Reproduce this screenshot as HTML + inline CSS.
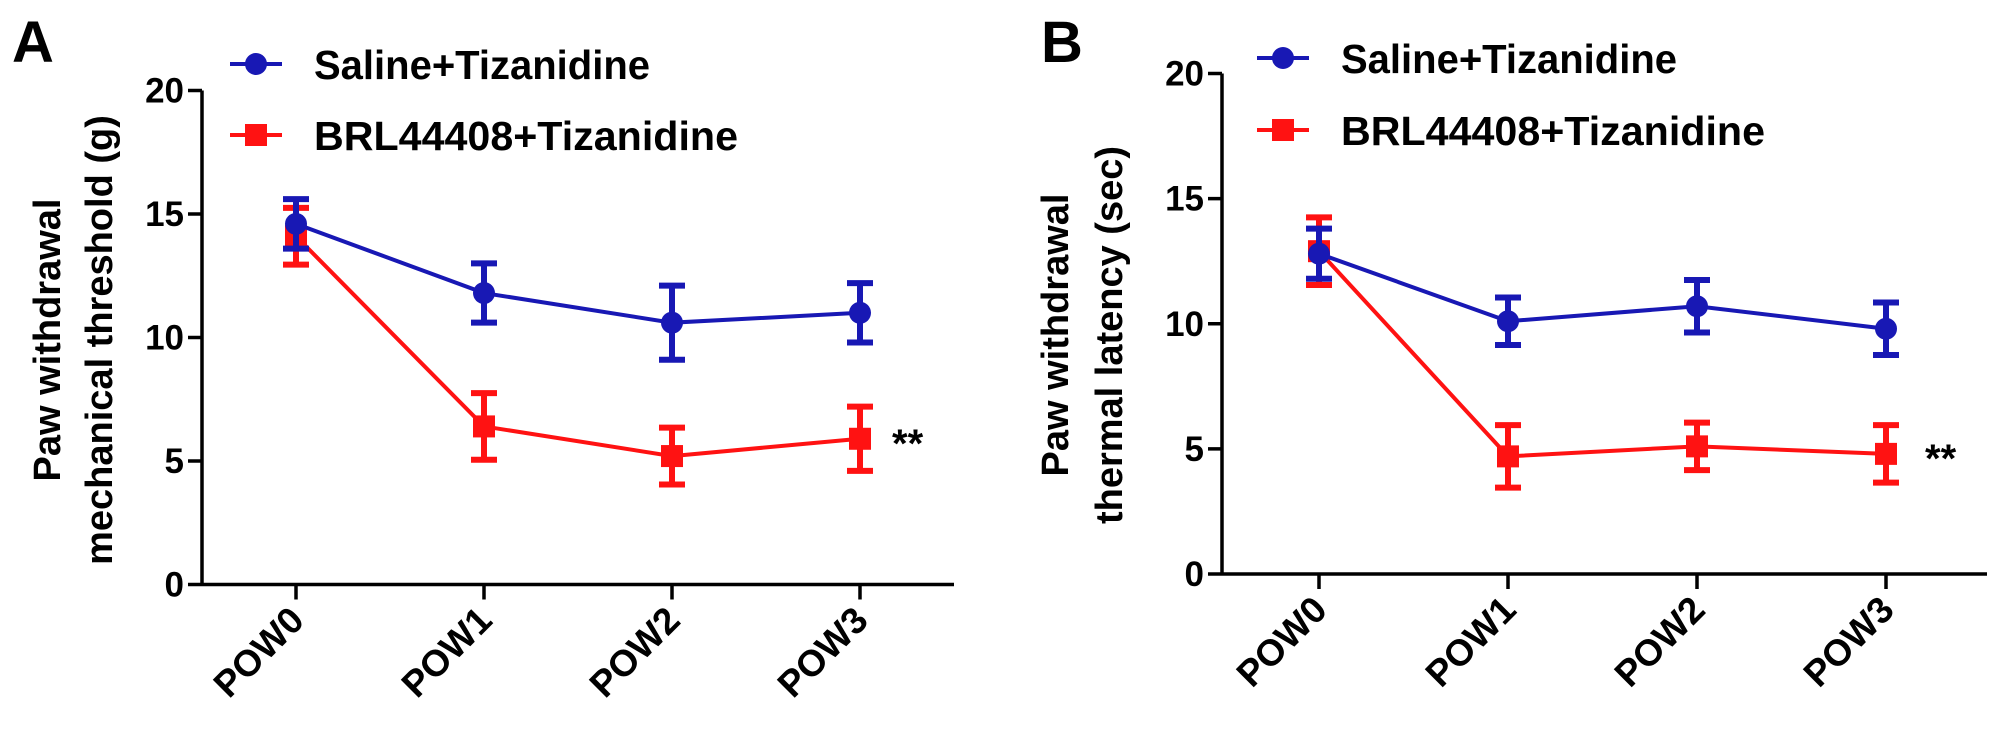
<!DOCTYPE html>
<html><head><meta charset="utf-8"><style>
html,body{margin:0;padding:0;background:#fff;}
svg{display:block;font-family:"Liberation Sans",Arial,sans-serif;font-weight:bold;}
</style></head><body>
<svg id="chart" width="2008" height="730" viewBox="0 0 2008 730"></svg>
<script>
const categories = ["POW0","POW1","POW2","POW3"];
const yTicks = [0,5,10,15,20];
const yTickLabels = ["0","5","10","15","20"];
const seriesNames = ["Saline+Tizanidine","BRL44408+Tizanidine"];
const aSalineMean = [14.6,11.8,10.6,11.0];
const aSalineErr  = [1.0,1.2,1.5,1.2];
const aBrlMean    = [14.1,6.4,5.2,5.9];
const aBrlErr     = [1.15,1.35,1.15,1.3];
const bSalineMean = [12.8,10.1,10.7,9.8];
const bSalineErr  = [1.0,0.95,1.05,1.05];
const bBrlMean    = [12.9,4.7,5.1,4.8];
const bBrlErr     = [1.35,1.25,0.95,1.15];

const NS="http://www.w3.org/2000/svg";
const svg=document.getElementById('chart');
function mk(tag,attrs,parent,text){
  const e=document.createElementNS(NS,tag);
  for(const k in attrs) e.setAttribute(k,attrs[k]);
  if(text!==undefined) e.textContent=text;
  (parent||svg).appendChild(e);
  return e;
}

function panel(cfg){
  const g=mk('g',{});
  
  
  const yScale=v=>cfg.y0-(v/20)*(cfg.y0-cfg.y20);
  const xScale=i=>cfg.x0+i*cfg.dx;
  const L=mk('text',{x:cfg.letterX,y:62,'font-size':58},g,cfg.letter);
  
  
  const ya=mk('line',{x1:cfg.ax,y1:cfg.y20,x2:cfg.ax,y2:cfg.y0+1.5,stroke:'#000','stroke-width':3.5},g);
  
  
  yTicks.forEach((t,i)=>{
    const y=yScale(t);
    mk('line',{x1:cfg.ax-14,y1:y,x2:cfg.ax,y2:y,stroke:'#000','stroke-width':3.5},g);
    const tl=mk('text',{x:cfg.ax-18,y:y+12,'font-size':35,'text-anchor':'end'},g,yTickLabels[i]);
    
    
  });
  const xa=mk('line',{x1:cfg.ax,y1:cfg.y0,x2:cfg.xEnd,y2:cfg.y0,stroke:'#000','stroke-width':3.5},g);
  
  
  categories.forEach((c,i)=>{
    const x=xScale(i);
    mk('line',{x1:x,y1:cfg.y0,x2:x,y2:cfg.y0+15,stroke:'#000','stroke-width':3.5},g);
    const t=mk('text',{x:0,y:0,'font-size':37,'text-anchor':'end',transform:`translate(${x+10},${cfg.y0+38}) rotate(-45)`},g,c);
    
    
  });
  const yt=mk('text',{'font-size':38,'text-anchor':'middle',transform:`translate(${cfg.t1x},${cfg.tcy}) rotate(-90)`},g,cfg.title1);
  
  
  const yt2=mk('text',{'font-size':38,'text-anchor':'middle',transform:`translate(${cfg.t2x},${cfg.tcy}) rotate(-90)`},g,cfg.title2);
  
  
  const series=[
    {mean:cfg.s1,err:cfg.e1,color:'#1818b4',shape:'circle',name:'saline-series'},
    {mean:cfg.s2,err:cfg.e2,color:'#ff1212',shape:'square',name:'brl-series'}
  ];
  [series[1],series[0]].forEach(s=>{
    const sg=mk('g',{},g);
    
    
    const pts=s.mean.map((v,i)=>xScale(i)+','+yScale(v)).join(' ');
    mk('polyline',{points:pts,fill:'none',stroke:s.color,'stroke-width':4},sg);
    s.mean.forEach((v,i)=>{
      const x=xScale(i),yt=yScale(v+s.err[i]),yb=yScale(v-s.err[i]);
      const eb=mk('path',{d:`M${x},${yt}V${yb}M${x-13},${yt}H${x+13}M${x-13},${yb}H${x+13}`,stroke:s.color,'stroke-width':6,fill:'none'},sg);
      
      
      let m;
      if(s.shape==='circle') m=mk('circle',{cx:x,cy:yScale(v),r:11,fill:s.color},sg);
      else m=mk('rect',{x:x-11,y:yScale(v)-11,width:22,height:22,fill:s.color},sg);
      
      
    });
  });
  const st=mk('text',{x:cfg.starX,y:yScale(cfg.s2[3])+18,'font-size':40},g,'**');
  
  
  const lg=mk('g',{},g);
  
  
  [[cfg.legY1,'#1818b4','circle',seriesNames[0]],[cfg.legY2,'#ff1212','square',seriesNames[1]]].forEach(([y,c,sh,n])=>{
    const le=mk('g',{},lg);
    
    
    mk('line',{x1:cfg.legX,y1:y,x2:cfg.legX+52,y2:y,stroke:c,'stroke-width':4},le);
    if(sh==='circle') mk('circle',{cx:cfg.legX+26,cy:y,r:11,fill:c},le);
    else mk('rect',{x:cfg.legX+15,y:y-11,width:22,height:22,fill:c},le);
    const w = n.length>18 ? 424 : 336;
    mk('text',{x:cfg.legX+84,y:y+15,'font-size':41,textLength:w,lengthAdjust:'spacingAndGlyphs'},le,n);
  });
}

panel({name:'panel-a',letter:'A',letterX:12,ax:202,y0:584.5,y20:90.5,x0:296,dx:188,xEnd:954,
  t1x:60,t2x:112,tcy:340,title1:'Paw withdrawal',title2:'mechanical threshold (g)',
  s1:aSalineMean,e1:aSalineErr,s2:aBrlMean,e2:aBrlErr,starX:892,legX:230,legY1:64,legY2:135});
panel({name:'panel-b',letter:'B',letterX:1041,ax:1222,y0:574,y20:73.5,x0:1319,dx:189,xEnd:1987,
  t1x:1068,t2x:1122,tcy:335,title1:'Paw withdrawal',title2:'thermal latency (sec)',
  s1:bSalineMean,e1:bSalineErr,s2:bBrlMean,e2:bBrlErr,starX:1925,legX:1257,legY1:58,legY2:130});
</script>
</body></html>
